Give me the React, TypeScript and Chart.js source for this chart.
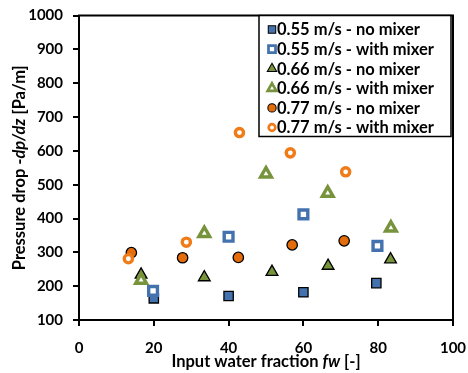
import React, { useEffect, useRef } from "react";
import { Chart, registerables } from "chart.js";

Chart.register(...registerables);

// ---- data ----
const seriesLabels = [
  "0.55 m/s - no mixer",
  "0.55 m/s - with mixer",
  "0.66 m/s - no mixer",
  "0.66 m/s - with mixer",
  "0.77 m/s - no mixer",
  "0.77 m/s - with mixer",
];
const x055NoMix = [20, 40, 60, 79.5];
const y055NoMix = [164, 171, 182, 209];
const x055Mix = [19.8, 40, 60, 79.8];
const y055Mix = [186, 346, 412, 319];
const x066NoMix = [16.6, 33.5, 51.6, 66.6, 83.3];
const y066NoMix = [234, 226, 242, 260, 279];
const x066Mix = [16.6, 33.5, 50, 66.5, 83.4];
const y066Mix = [218, 356, 532, 475, 372];
const x077NoMix = [14, 27.7, 42.6, 57, 70.9];
const y077NoMix = [299, 284, 285, 322, 334];
const x077Mix = [13.2, 28.7, 42.9, 56.5, 71.3];
const y077Mix = [281, 330, 654, 594, 538];

const xTicks = [0, 20, 40, 60, 80, 100];
const yTicks = [100, 200, 300, 400, 500, 600, 700, 800, 900, 1000];

const BLUE = "#4472AE";
const GREEN = "#77933C";
const ORANGE = "#E46C0A";
const ORANGE2 = "#F07C19";
const FONT = "Lato";
const TEXT_SIZE = 16.5;

type Style = { shape: string; fill: string; stroke: string; bw: number; r: number };
const styles: Style[] = [
  { shape: "rect", fill: BLUE, stroke: "#000", bw: 1.3, r: 6.6 },
  { shape: "rect", fill: "#fff", stroke: BLUE, bw: 3.4, r: 6.2 },
  { shape: "triangle", fill: GREEN, stroke: "#000", bw: 1.3, r: 6.8 },
  { shape: "triangle", fill: "#fff", stroke: GREEN, bw: 3.4, r: 6.2 },
  { shape: "circle", fill: ORANGE, stroke: "#000", bw: 1.3, r: 5.2 },
  { shape: "circle", fill: "#fff", stroke: ORANGE2, bw: 3.4, r: 4.1 },
];

const xs = [x055NoMix, x055Mix, x066NoMix, x066Mix, x077NoMix, x077Mix];
const ys = [y055NoMix, y055Mix, y066NoMix, y066Mix, y077NoMix, y077Mix];

function drawMarker(ctx: CanvasRenderingContext2D, s: Style, x: number, y: number, scale = 1) {
  const r = s.r * scale;
  ctx.save();
  ctx.beginPath();
  if (s.shape === "rect") {
    const h = Math.SQRT1_2 * r;
    ctx.rect(x - h, y - h, 2 * h, 2 * h);
  } else if (s.shape === "triangle") {
    for (let i = 0; i < 3; i++) {
      const a = -Math.PI / 2 + (i * 2 * Math.PI) / 3;
      const px = x + Math.cos(a) * r;
      const py = y + Math.sin(a) * r;
      if (i === 0) ctx.moveTo(px, py);
      else ctx.lineTo(px, py);
    }
    ctx.closePath();
  } else {
    ctx.arc(x, y, r, 0, Math.PI * 2);
  }
  ctx.fillStyle = s.fill;
  ctx.fill();
  ctx.lineWidth = s.bw * scale;
  ctx.strokeStyle = s.stroke;
  ctx.lineJoin = "miter";
  ctx.stroke();
  ctx.restore();
}

function drawMixed(
  ctx: CanvasRenderingContext2D,
  parts: { t: string; italic: boolean }[],
  size: number
) {
  const fonts = parts.map((p) => `${p.italic ? "italic " : ""}bold ${size}px ${FONT}`);
  let total = 0;
  const widths = parts.map((p, i) => {
    ctx.font = fonts[i];
    const w = ctx.measureText(p.t).width;
    total += w;
    return w;
  });
  let cx = -total / 2;
  parts.forEach((p, i) => {
    ctx.font = fonts[i];
    ctx.fillText(p.t, cx, 0);
    cx += widths[i];
  });
}

const decorPlugin = {
  id: "decor",
  afterDatasetsDraw(chart: any) {
    const { ctx, chartArea } = chart;
    const { left, right, top, bottom } = chartArea;
    ctx.save();
    // frame
    ctx.strokeStyle = "#000";
    ctx.lineWidth = 2;
    ctx.strokeRect(left, top, right - left, bottom - top);

    // legend box
    const lx = 259, ly = top, lw = 192, lh = 121;
    ctx.fillStyle = "#fff";
    ctx.fillRect(lx, ly, lw, lh);
    ctx.lineWidth = 1.5;
    ctx.strokeStyle = "#000";
    ctx.strokeRect(lx, ly, lw, lh);
    ctx.textBaseline = "middle";
    ctx.textAlign = "left";
    seriesLabels.forEach((lab, i) => {
      const cy = ly + 14 + i * 19.6;
      drawMarker(ctx, styles[i], 272, cy, 0.8);
      ctx.fillStyle = "#000";
      ctx.font = `bold ${TEXT_SIZE}px ${FONT}`;
      ctx.fillText(lab, 277, cy + 0.5);
    });

    // x title
    ctx.fillStyle = "#000";
    ctx.textAlign = "left";
    ctx.textBaseline = "middle";
    ctx.save();
    ctx.translate((left + right) / 2, 362);
    drawMixed(
      ctx,
      [
        { t: "Input water fraction ", italic: false },
        { t: "fw", italic: true },
        { t: " [-]", italic: false },
      ],
      TEXT_SIZE
    );
    ctx.restore();

    // y title
    ctx.save();
    ctx.translate(20, (top + bottom) / 2);
    ctx.rotate(-Math.PI / 2);
    drawMixed(
      ctx,
      [
        { t: "Pressure drop -", italic: false },
        { t: "dp/dz", italic: true },
        { t: " [Pa/m]", italic: false },
      ],
      TEXT_SIZE
    );
    ctx.restore();
    ctx.restore();
  },
};

export default function App() {
  const ref = useRef<HTMLCanvasElement | null>(null);
  useEffect(() => {
    if (!ref.current) return;
    const datasets = seriesLabels.map((lab, i) => ({
      label: lab,
      data: xs[i].map((x, j) => ({ x, y: ys[i][j] })),
      pointStyle: styles[i].shape,
      pointRadius: styles[i].r,
      pointBackgroundColor: styles[i].fill,
      pointBorderColor: styles[i].stroke,
      pointBorderWidth: styles[i].bw,
      backgroundColor: styles[i].fill,
      borderColor: styles[i].stroke,
      showLine: false,
      order: 10 - i,
    }));
    const chart = new Chart(ref.current, {
      type: "scatter",
      data: { datasets },
      plugins: [decorPlugin],
      options: {
        animation: false,
        responsive: false,
        events: [],
        layout: { padding: { left: 0, right: 15, top: 15.5, bottom: 0 } },
        plugins: { legend: { display: false }, tooltip: { enabled: false } },
        scales: {
          x: {
            type: "linear",
            min: 0,
            max: 100,
            afterBuildTicks: (s: any) => {
              s.ticks = xTicks.map((v) => ({ value: v }));
            },
            afterFit: (s: any) => {
              s.height = 53;
              s.paddingLeft = 0;
              s.paddingRight = 0;
            },
            ticks: {
              color: "#000",
              font: { family: FONT, size: 15, weight: "bold" },
              padding: 13,
              maxRotation: 0,
              callback: (v: any) => String(v),
            },
            grid: { drawOnChartArea: false, drawTicks: true, tickLength: 6, color: "#000", lineWidth: 2 },
            border: { color: "#000", width: 2 },
          },
          y: {
            type: "linear",
            min: 100,
            max: 1000,
            afterBuildTicks: (s: any) => {
              s.ticks = yTicks.map((v) => ({ value: v }));
            },
            afterFit: (s: any) => {
              s.width = 79;
              s.paddingTop = 0;
              s.paddingBottom = 0;
            },
            ticks: {
              color: "#000",
              font: { family: FONT, size: 15, weight: "bold" },
              padding: 10,
              callback: (v: any) => String(v),
            },
            grid: { drawOnChartArea: false, drawTicks: true, tickLength: 6, color: "#000", lineWidth: 2 },
            border: { color: "#000", width: 2 },
          },
        },
      },
    });
    return () => chart.destroy();
  }, []);
  return (
    <div style={{ position: "fixed", left: 0, top: 0, width: 468, height: 373, background: "#fff" }}>
      <canvas ref={ref} width={468} height={373} style={{ width: 468, height: 373 }} />
    </div>
  );
}
